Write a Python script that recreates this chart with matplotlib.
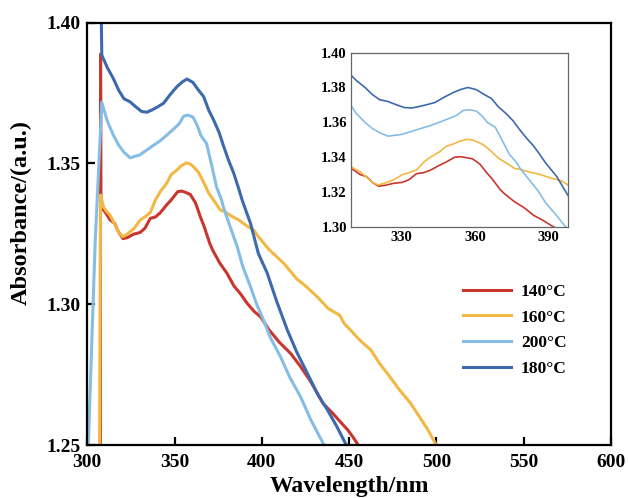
import matplotlib
matplotlib.use("Agg")
import matplotlib.pyplot as plt

plt.rcParams["font.family"] = ["Liberation Serif", "DejaVu Serif"]
plt.rcParams["font.weight"] = "bold"

# absorbance spectra
wl_140 = [307.5, 307.6, 307.8, 309.3, 311, 313, 315.7, 318, 320.5, 323, 326.6, 330.3,
          333, 336.1, 339, 341.8, 345.6, 348, 351.8, 354, 356, 359, 362, 364.8, 367,
          370.2, 372, 376, 380, 384, 388, 391.6, 395.5, 399.3, 404, 410, 416.5, 422,
          428, 435, 441, 446, 449, 452, 455.8]
abs_140 = [1.24, 1.3888, 1.336, 1.3335, 1.332, 1.330, 1.3287, 1.3255, 1.3233, 1.3237,
           1.3249, 1.3255, 1.327, 1.3305, 1.331, 1.3325, 1.3354, 1.337, 1.3400, 1.3402,
           1.3398, 1.3390, 1.3360, 1.3310, 1.3275, 1.3215, 1.319, 1.3145, 1.3110, 1.3065,
           1.3035, 1.3003, 1.2975, 1.2955, 1.291, 1.2865, 1.2825, 1.278, 1.2725, 1.2648,
           1.2610, 1.2575, 1.2555, 1.2530, 1.2494]

wl_160 = [307.0, 307.6, 309.3, 311, 313, 316, 318, 320.3, 323, 326.6, 330.3, 333, 336.1,
          339, 341.8, 345.6, 348, 351.4, 353.5, 356.6, 359, 360.7, 363.5, 366.1, 369.5,
          373, 376.3, 378.4, 382, 386.6, 391, 395.4, 398, 404, 412.6, 420, 425, 431.8,
          438, 444.6, 447.1, 452, 456, 462.5, 467.4, 473, 478.9, 485, 490.3, 495, 499.9]
abs_160 = [1.24, 1.3388, 1.3345, 1.333, 1.3317, 1.328, 1.3255, 1.3240, 1.325, 1.3268,
           1.3299, 1.331, 1.3326, 1.337, 1.3400, 1.3431, 1.346, 1.3477, 1.349, 1.3502,
           1.3498, 1.3489, 1.347, 1.3440, 1.3395, 1.3364, 1.3334, 1.3330, 1.3315, 1.3300,
           1.3280, 1.3263, 1.3240, 1.3195, 1.3145, 1.3090, 1.3065, 1.3026, 1.2985, 1.2961,
           1.2932, 1.2900, 1.2873, 1.2837, 1.2790, 1.2745, 1.2695, 1.2650, 1.2600, 1.2555,
           1.2500]

wl_200 = [300.3, 304.5, 308.3, 311.5, 314.9, 318, 321, 324.5, 327, 330, 334.1, 338,
          341.6, 345.6, 349, 352.5, 355.2, 357.5, 360.5, 363, 365, 368.3, 371, 374,
          376.9, 378.2, 381, 385.9, 389, 393.5, 397, 400.2, 405, 410.7, 416, 422.2, 428,
          435.6]
abs_200 = [1.245, 1.322, 1.3717, 1.365, 1.3601, 1.3565, 1.354, 1.352, 1.3525, 1.353,
           1.3548, 1.3565, 1.358, 1.3601, 1.362, 1.364, 1.3668, 1.3672, 1.3665, 1.3635,
           1.3600, 1.3571, 1.3500, 1.3417, 1.3370, 1.3340, 1.3290, 1.3204, 1.3135, 1.3062,
           1.3000, 1.2955, 1.2880, 1.2813, 1.2740, 1.2671, 1.2590, 1.2500]

wl_180 = [307.6, 308.3, 311.5, 314.9, 318, 321, 324.5, 328, 331, 334.1, 337, 340, 343.7,
          347.5, 351.4, 354.5, 357.1, 360.5, 363.5, 366.7, 369.5, 372.4, 375.5, 378.2, 381,
          383.9, 386.5, 388.7, 391, 393.5, 398, 403.1, 408.5, 414.6, 420, 426.1, 432, 437.6,
          443, 447.5, 449.3]
abs_180 = [1.42, 1.3885, 1.384, 1.3802, 1.376, 1.373, 1.3719, 1.370, 1.3685, 1.3682,
           1.369, 1.370, 1.3714, 1.3745, 1.3773, 1.379, 1.380, 1.3788, 1.3762, 1.3737,
           1.369, 1.3654, 1.361, 1.3559, 1.351, 1.3465, 1.3415, 1.337, 1.333, 1.3287,
           1.3180, 1.311, 1.301, 1.2908, 1.2830, 1.2754, 1.2680, 1.2624, 1.2565, 1.2510,
           1.2490]

series = [
    ("140°C", wl_140, abs_140, "#c9362d"),
    ("160°C", wl_160, abs_160, "#f2b843"),
    ("200°C", wl_200, abs_200, "#86bde4"),
    ("180°C", wl_180, abs_180, "#3d69ad"),
]

fig = plt.figure(figsize=(6.29, 4.98), dpi=100)
ax = fig.add_axes([0.1388, 0.1064, 0.8326, 0.848])

for label, x, y, c in series:
    ax.plot(x, y, color=c, lw=2.2, label=label)

ax.set_xlim(300, 600)
ax.set_ylim(1.25, 1.40)
ax.set_xticks([300, 350, 400, 450, 500, 550, 600])
ax.set_yticks([1.25, 1.30, 1.35, 1.40])
ax.set_yticklabels(["1.25", "1.30", "1.35", "1.40"])
ax.tick_params(direction="in", length=6, width=1.6, labelsize=14)
ax.tick_params(axis="x", pad=6.5)
ax.tick_params(axis="y", pad=5)
for s in ax.spines.values():
    s.set_linewidth(1.6)
ax.set_xlabel("Wavelength/nm", fontsize=17, fontweight="bold")
ax.set_ylabel("Absorbance/(a.u.)", fontsize=17.5, fontweight="bold")
ax.xaxis.set_label_coords(0.5, -0.074)
ax.yaxis.set_label_coords(-0.106, 0.55)

ax.legend(loc="center left", bbox_to_anchor=(0.717, 0.2716), frameon=False,
          fontsize=12.5, handlelength=2.8, handletextpad=0.55, labelspacing=0.55,
          borderpad=0, borderaxespad=0)

# zoomed inset around the 360 nm band
ins = fig.add_axes([0.558, 0.5448, 0.3445, 0.3494])
for label, x, y, c in series:
    ins.plot(x, y, color=c, lw=1.2)
ins.set_xlim(309.3, 397.9)
ins.set_ylim(1.30, 1.40)
ins.set_xticks([330, 360, 390])
ins.set_yticks([1.30, 1.32, 1.34, 1.36, 1.38, 1.40])
ins.set_yticklabels(["1.30", "1.32", "1.34", "1.36", "1.38", "1.40"])
ins.tick_params(length=0, labelsize=10.5, pad=3)
for s in ins.spines.values():
    s.set_color("#666666")
    s.set_linewidth(0.9)

plt.savefig("out.png", dpi=100)
